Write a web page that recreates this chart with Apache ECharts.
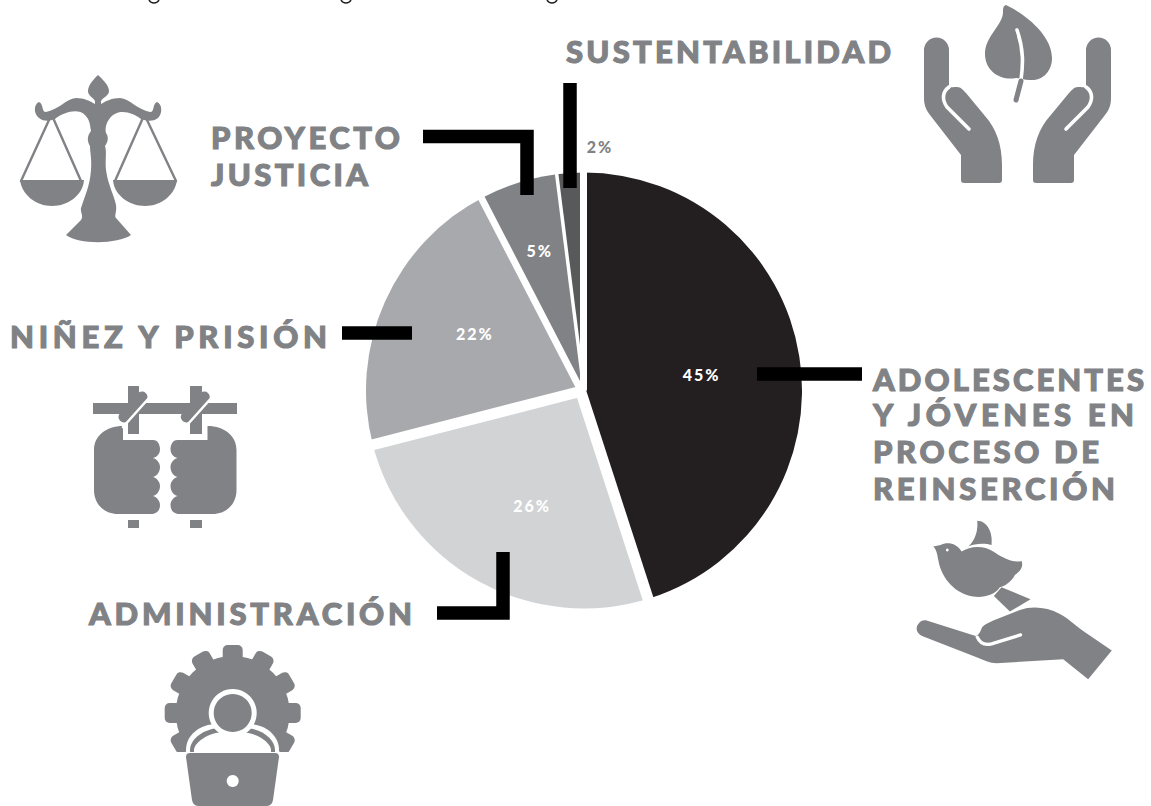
<!DOCTYPE html>
<html>
<head>
<meta charset="utf-8">
<title>Distribución</title>
<script src="https://cdn.jsdelivr.net/npm/echarts@6/dist/echarts.min.js"></script>
<style>
html,body{margin:0;padding:0;background:#fff;overflow:hidden}
#main{width:1151px;height:806px}
#main text{letter-spacing:2px}
</style>
</head>
<body>
<div id="main"></div>
<script>
var categories=['Adolescentes y jóvenes en proceso de reinserción','Administración','Niñez y prisión','Proyecto Justicia','Sustentabilidad'];
// slice sizes as drawn in the picture, and the rounded percentages printed on them
var values=[45,26,21.4,5.6,2];
var printed=[45,26,22,5,2];
var sliceColors=['#231f20','#d1d3d4','#a7a9ac','#808285','#58595b'];
var labelColors=['#fff','#fff','#fff','#fff','#808285'];
var labelShift=[[7,2],[2,17],[-7,-11],[-11,-33],[23,-132]];
// white gaps between slices, in slice order (the last one closes the circle)
var gapWidth=[11,11,7,3.5,7];
var gapShift=[-3.6,0,-3,0,-0.5];

var GREY='#808285';
var FONT='900 31px Lato';
var CX=584,CY=390.5,R=218;

// the graphic component has no svg path type, so register one
var pathCache={};
echarts.graphic.registerShape('iconPath',echarts.graphic.extendShape({
    shape:{pathData:''},
    buildPath:function(ctx,s){
        var p=pathCache[s.pathData]||(pathCache[s.pathData]=echarts.graphic.makePath(s.pathData));
        p.buildPath(ctx,p.shape);
    }
}));

var chart=echarts.init(document.getElementById('main'),null,{renderer:'svg'});

function shape(d,extra){
    var el={type:'iconPath',silent:true,z:20,shape:{pathData:d},style:{fill:GREY}};
    return Object.assign(el,extra||{});
}
function line(d,color,w){
    return {type:'iconPath',silent:true,z:21,shape:{pathData:d},style:{fill:'none',stroke:color,lineWidth:w,lineCap:'round'}};
}
var textEnds={};
function label(t,x,y,end){
    textEnds[t]=end-x;
    return {type:'text',silent:true,z:30,x:x,y:y,style:{text:t,fill:GREY,stroke:GREY,lineWidth:1.1,font:FONT,align:'left',verticalAlign:'middle'}};
}
function bar(d){
    return {type:'iconPath',silent:true,z:25,shape:{pathData:d},style:{fill:'none',stroke:'#000',lineWidth:13.5,lineCap:'butt',lineJoin:'miter'}};
}

var g=[];
// clipped line of text at the very top
[[149,159],[341,351],[547,557]].forEach(function(p){
    g.push({type:'iconPath',silent:true,shape:{pathData:'M'+p[0]+' 0C'+(p[0]+2)+' 4 '+(p[1]-2)+' 4 '+p[1]+' 0'},style:{fill:'none',stroke:'#231f20',lineWidth:1.5}});
});

// gaps follow the slice boundaries
var total=values.reduce(function(a,b){return a+b;},0),cum=0;
values.forEach(function(v,i){
    cum+=v;
    var a=cum/total*Math.PI*2;
    g.push({type:'line',silent:true,z:10,shape:{x1:CX+gapShift[i],y1:CY,x2:CX+gapShift[i]+(R+8)*Math.sin(a),y2:CY-(R+8)*Math.cos(a)},style:{stroke:'#fff',lineWidth:gapWidth[i]}});
});

// texts
g.push(label('SUSTENTABILIDAD',566,51,891));
g.push(label('PROYECTO',211,136.5,400));
g.push(label('JUSTICIA',211,173.5,368));
g.push(label('NIÑEZ Y PRISIÓN',10,335.5,327));
g.push(label('ADOLESCENTES',873,378.5,1144));
g.push(label('Y JÓVENES EN',873,414,1134));
g.push(label('PROCESO DE',873,451,1099));
g.push(label('REINSERCIÓN',873,488,1115));
g.push(label('ADMINISTRACIÓN',89,613,412));

// leader lines
g.push(bar('M570 83L570 188'));
g.push(bar('M423 136.5L527 136.5L527 195'));
g.push(bar('M342 333L412 333'));
g.push(bar('M757 374L862 374'));
g.push(bar('M437 613L503 613L503 552'));

// scales
g.push(shape('M98 75C102 79 109 85 109 91C109 96 103 97 101 101L101 104C106 101 112 98 120 98C130 99 138 110 150 112C155 112 152 104 157 102C162 104 163 113 158 118C153 122 146 121 141 119C132 112 118 108 110 118C106 123 105 128 106 133C109 137 108 142 105 146C107 152 105 160 106 170C108 185 114 195 116 205C117 212 114 216 116 218L131 235C118 244 80 245 66 235L81 220C84 216 80 212 81 208C84 198 90 186 91 170C92 160 90 152 90 146C87 141 87 136 91 131C90 125 90 120 85 115C78 108 64 112 55 119C50 121 44 122 39 118C33 113 34 104 39 102C44 104 41 112 46 112C58 110 66 99 76 98C84 98 90 101 95 104L95 101C93 97 88 96 88 91C88 85 94 79 98 75Z'));
g.push(shape('M20 180L84 180C83 195 68 206 52 206C36 206 22 195 20 180Z'));
g.push(shape('M113 180L177 180C175 195 161 206 145 206C129 206 114 195 113 180Z'));
g.push(line('M49 120L21 181M54 120L81 181M147 120L176 181M142 120L115 181',GREY,2.4));

// leaf and hands
var hand='M924 50A12.5 12.5 0 0 1 949 50L949 87C950 88 952 87 957 87C961 87 963 90 966 93L985 116C996 128 1002 145 1002 165L1002 180Q1002 183 999 183L964 183Q961 183 961 180L961 155L930 115C926 110 924 105 924 98Z';
var slit='M949 87C942 92 942 100 947 107L969 129';
g.push(shape('M1006 5C1025 14 1052 35 1052 58C1052 72 1042 81 1030 80C1024 80 1020 78 1016 78C1002 81 985 72 985 54C985 36 1003 25 1003 12C1003 9 1003 6 1006 5Z'));
g.push(line('M1017 30C1024 50 1023 65 1021 80',"#fff",3.6));
g.push(line('M1021 81L1016 100',GREY,5));
g.push(shape(hand));
g.push(line(slit,'#fff',3.6));
g.push(shape(hand,{x:2035,scaleX:-1}));
g.push(Object.assign(line(slit,'#fff',3.6),{x:2035,scaleX:-1}));

// handcuffs
var fist='M123 426L123 440L153 440C158 440 160 445 160 449C160 454 157 457 153 458C157 459 160 463 160 467C160 472 157 476 153 477C157 478 160 482 160 486C160 491 157 495 153 496C157 497 160 501 160 505C160 510 157 514 151 514L118 514C104 514 94 504 94 490L94 450C94 436 106 426 123 426Z';
g.push(shape('M93 403L237 403L237 414L93 414Z'));
g.push(shape('M128 386L139 386L139 434L128 434ZM190 386L202 386L202 434L190 434Z'));
g.push(shape(fist));
g.push(shape(fist,{x:330.5,scaleX:-1}));
g.push(shape('M128 520L139 520L139 528L128 528ZM190 520L202 520L202 528L190 528Z'));
[0,62.3].forEach(function(dx){
    g.push(Object.assign(line('M142 397L124 417',GREY,11),{x:dx}));
    g.push(Object.assign(line('M149 398L123 427','#fff',2.6),{x:dx,z:22}));
});

// gear, person, laptop
var gx=232.7,gy=713;
[-120,-90,-60,-30,0,30,60,90,120].forEach(function(a){
    var r=a*Math.PI/180,s=Math.sin(r),c=Math.cos(r);
    function pt(rad,side){return (gx+rad*s+side*c)+' '+(gy-rad*c+side*s);}
    g.push({type:'iconPath',silent:true,z:20,shape:{pathData:'M'+pt(46,-5)+'L'+pt(63,-5)+'L'+pt(63,5)+'L'+pt(46,5)+'Z'},style:{fill:GREY,stroke:GREY,lineWidth:10,lineJoin:'round'}});
});
g.push({type:'circle',silent:true,z:20,shape:{cx:gx,cy:gy,r:57},style:{fill:GREY}});
function torso(i,c){
    var l=186+i,r=279-i,t=724+i;
    return {type:'iconPath',silent:true,z:22,shape:{pathData:'M'+l+' 756L'+l+' 750C'+l+' '+(t+11)+' '+(l+14)+' '+t+' '+(l+31)+' '+t+'L'+(r-31)+' '+t+'C'+(r-14)+' '+t+' '+r+' '+(t+11)+' '+r+' 750L'+r+' 756Z'},style:{fill:c}};
}
g.push(torso(0,'#fff'));
g.push(torso(4,GREY));
g.push(torso(8,'#fff'));
g.push({type:'iconPath',silent:true,z:22,shape:{pathData:'M172 752L293 752L293 806L172 806Z'},style:{fill:'#fff'}});
g.push({type:'circle',silent:true,z:23,shape:{cx:gx,cy:gy,r:24},style:{fill:'#fff'}});
g.push({type:'circle',silent:true,z:23,shape:{cx:gx,cy:gy,r:19},style:{fill:GREY}});
g.push({type:'iconPath',silent:true,z:23,shape:{pathData:'M190 753L275 753Q279 753 279 757L273 800Q272 806 266 806L199 806Q193 806 192 800L186 757Q186 753 190 753Z'},style:{fill:GREY}});
g.push({type:'circle',silent:true,z:24,shape:{cx:gx,cy:781,r:6},style:{fill:'#fff'}});

// bird over hand (drawn in 3x units)
var third={x:900,y:500,scaleX:1/3,scaleY:1/3};
g.push(shape('M80 362L225 408C232 410 240 400 245 385C250 375 265 370 280 362L360 330C395 318 440 320 480 342C510 358 530 380 560 400L636 452L565 538L490 478L290 490C270 490 250 480 230 472L70 410C50 402 45 385 55 372C62 362 72 360 80 362Z',third));
g.push(Object.assign(line('M232 412C240 430 255 437 275 432L362 405','#fff',10),third));
g.push(shape('M100 140L122 135C140 125 170 128 185 155C210 138 250 135 280 155C310 175 340 190 365 183C372 200 360 215 345 225C340 235 325 255 300 262C285 285 250 295 220 290C170 282 125 240 115 180C112 165 110 150 100 140Z',third));
g.push(shape('M232 62C260 62 280 95 275 135C255 130 225 130 205 140C225 120 235 95 232 62Z',third));
g.push(shape('M305 262L392 298L330 335L282 288Z',third));
g.push({type:'circle',silent:true,z:23,shape:{cx:947.3,cy:550,r:1.4},style:{fill:'#fff'}});

var option={
    animation:false,
    backgroundColor:'#fff',
    series:[{
        type:'pie',
        silent:true,
        center:[CX,CY],
        radius:[0,R],
        startAngle:90,
        clockwise:true,
        sort:null,
        label:{
            position:'inside',
            formatter:function(p){return printed[p.dataIndex]+'%';},
            fontFamily:'Lato',fontWeight:900,fontSize:16
        },
        labelLine:{show:false},
        labelLayout:function(p){
            return {dx:labelShift[p.dataIndex][0],dy:labelShift[p.dataIndex][1]};
        },
        data:categories.map(function(n,i){
            return {name:n,value:values[i],itemStyle:{color:sliceColors[i]},label:{color:labelColors[i]}};
        })
    }],
    graphic:{elements:g}
};
chart.setOption(option);

// the source type is widely tracked: space each heading to its measured width
function fitText(){
    document.querySelectorAll('#main text').forEach(function(el){
        var t=el.textContent,w=textEnds[t];
        if(!w)return;
        el.style.letterSpacing='0px';
        el.style.letterSpacing=((w-el.getComputedTextLength())/(t.length-1))+'px';
    });
}
fitText();
chart.on('finished',fitText);
</script>
</body>
</html>
